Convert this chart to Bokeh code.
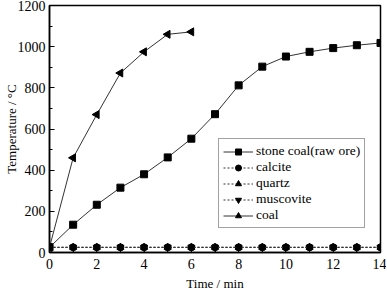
import math
from bokeh.plotting import figure
from bokeh.models import Legend, LegendItem, Range1d, SingleIntervalTicker
from bokeh.embed import file_html
from bokeh.resources import INLINE

time = list(range(0, 15))
stone_coal = [25, 135, 232, 315, 380, 462, 553, 672, 812, 903, 952, 975, 993, 1007, 1018]
calcite = [25] * 15
quartz = [25] * 15
muscovite = [25] * 15
coal_time = [0, 1, 2, 3, 4, 5, 6]
coal = [25, 460, 670, 872, 975, 1060, 1072]

FONT = "Liberation Serif"

p = figure(frame_width=331, frame_height=247, output_backend="svg", toolbar_location=None,
           x_range=Range1d(0, 14), y_range=Range1d(0, 1200),
           min_border_left=0, min_border_right=6, min_border_top=5, min_border_bottom=0)
p.grid.visible = False
p.outline_line_color = "black"
p.outline_line_width = 1.5
p.background_fill_color = "white"

for ax in (p.xaxis[0], p.yaxis[0]):
    ax.major_tick_in = 5
    ax.major_tick_out = 0
    ax.minor_tick_in = 3
    ax.minor_tick_out = 0
    ax.axis_line_width = 1.5
    ax.major_label_text_font = FONT
    ax.major_label_text_font_size = "14px"
    ax.major_label_text_color = "black"
    ax.axis_label_text_font = FONT
    ax.axis_label_text_font_size = "13px"
    ax.axis_label_text_font_style = "normal"
    ax.axis_label_text_color = "black"

p.xaxis[0].ticker = SingleIntervalTicker(interval=2, num_minor_ticks=2)
p.yaxis[0].ticker = SingleIntervalTicker(interval=200, num_minor_ticks=2)
p.xaxis[0].axis_label = "Time / min"
p.yaxis[0].axis_label = "Temperature / °C"
p.xaxis[0].axis_label_standoff = 4
p.yaxis[0].axis_label_standoff = -4
p.xaxis[0].major_label_standoff = 6
p.yaxis[0].major_label_standoff = 4

lc = "#333333"
r1l = p.line(time, stone_coal, line_color=lc, line_width=1)
r1m = p.scatter(time, stone_coal, marker="square", size=7, color="black")
r2l = p.line(time, calcite, line_color=lc, line_width=1, line_dash="2 2")
r2m = p.scatter(time, calcite, marker="circle", size=7, color="black")
r3l = p.line(time, quartz, line_color=lc, line_width=1, line_dash="2 2")
r3m = p.scatter(time, quartz, marker="triangle", size=7, color="black")
r4l = p.line(time, muscovite, line_color=lc, line_width=1, line_dash="2 2")
r4m = p.scatter(time, muscovite, marker="inverted_triangle", size=7, color="black")
r5l = p.line(coal_time, coal, line_color=lc, line_width=1)
r5m = p.scatter(coal_time, coal, marker="triangle", size=8, color="black", angle=math.pi / 2)

legend = Legend(items=[
    LegendItem(label="stone coal(raw ore)", renderers=[r1l, r1m]),
    LegendItem(label="calcite", renderers=[r2l, r2m]),
    LegendItem(label="quartz", renderers=[r3l, r3m]),
    LegendItem(label="muscovite", renderers=[r4l, r4m]),
    LegendItem(label="coal", renderers=[r5l, r5m]),
], location=(169, 24))
legend.label_text_font = FONT
legend.label_text_font_size = "13.5px"
legend.label_text_color = "black"
legend.border_line_color = "#444444"
legend.border_line_width = 1
legend.glyph_width = 30
legend.glyph_height = 15
legend.label_height = 15
legend.spacing = 0
legend.padding = 4
legend.margin = 0
legend.label_standoff = 3
p.add_layout(legend, "center")

open("out.html", "w").write(file_html(p, INLINE))
